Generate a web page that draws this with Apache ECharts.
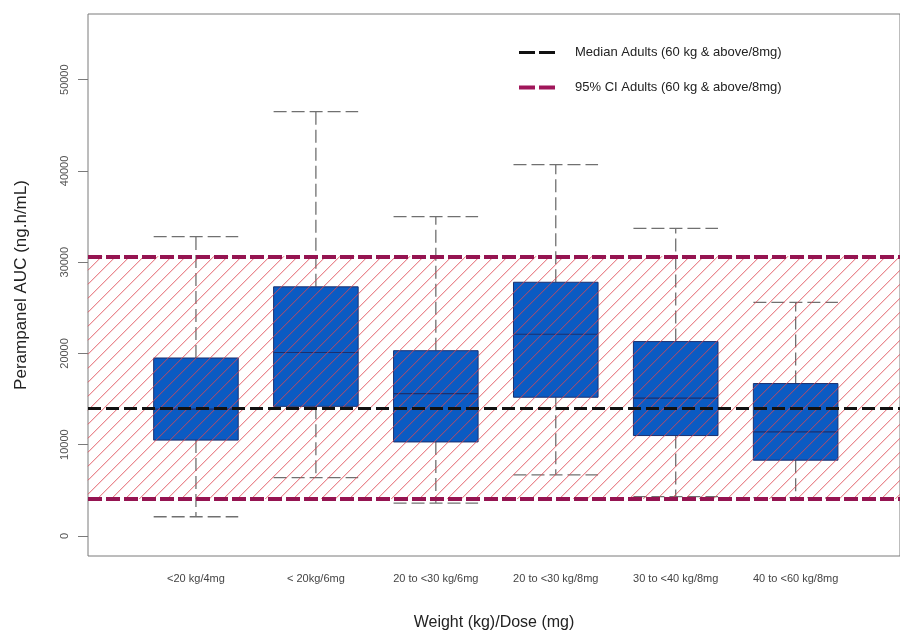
<!DOCTYPE html>
<html>
<head>
<meta charset="utf-8">
<script src="https://cdn.jsdelivr.net/npm/echarts@6/dist/echarts.min.js"></script>
<style>
  html, body { margin: 0; padding: 0; background: #fff; }
  #main { width: 900px; height: 637px; }
</style>
</head>
<body>
<div id="main"></div>
<script>
// groups on the x axis
const categories = ['<20 kg/4mg', '< 20kg/6mg', '20 to <30 kg/6mg', '20 to <30 kg/8mg', '30 to <40 kg/8mg', '40 to <60 kg/8mg'];

// box statistics per group (ng.h/mL)
const whiskerLow = [2100, 6400, 3600, 6700, 4300, 4200];
const q1Values = [10500, 14200, 10300, 15200, 11000, 8300];
const medianValues = [13900, 20100, 15600, 22100, 15100, 11400];
const q3Values = [19500, 27300, 20300, 27800, 21300, 16700];
const whiskerHigh = [32800, 46500, 35000, 40700, 33700, 25600];

// adult reference (60 kg & above / 8mg)
const adultMedian = 13950;
const adultCI = [4050, 30650];

const yTicks = [0, 10000, 20000, 30000, 40000, 50000];

const medianName = 'Median Adults (60 kg & above/8mg)';
const ciName = '95% CI Adults (60 kg & above/8mg)';

const boxData = categories.map((c, i) => [i + 1, whiskerLow[i], q1Values[i], medianValues[i], q3Values[i], whiskerHigh[i]]);

const whiskerStyle = { stroke: '#707070', lineWidth: 1.3, lineDash: [13, 5] };

function renderBox(params, api) {
  const x = api.value(0);
  const half = api.size([0.705, 0])[0] / 2;
  const pLow = api.coord([x, api.value(1)]);
  const pQ1 = api.coord([x, api.value(2)]);
  const pMed = api.coord([x, api.value(3)]);
  const pQ3 = api.coord([x, api.value(4)]);
  const pHigh = api.coord([x, api.value(5)]);
  const cx = pMed[0];
  return {
    type: 'group',
    children: [
      { type: 'line', shape: { x1: cx, y1: pQ3[1], x2: cx, y2: pHigh[1] }, style: whiskerStyle },
      { type: 'line', shape: { x1: cx, y1: pQ1[1], x2: cx, y2: pLow[1] }, style: whiskerStyle },
      { type: 'line', shape: { x1: cx - half, y1: pHigh[1], x2: cx + half, y2: pHigh[1] }, style: whiskerStyle },
      { type: 'line', shape: { x1: cx - half, y1: pLow[1], x2: cx + half, y2: pLow[1] }, style: whiskerStyle },
      {
        type: 'rect',
        shape: { x: cx - half, y: pQ3[1], width: half * 2, height: pQ1[1] - pQ3[1] },
        style: { fill: '#0b5bc3', stroke: '#1c2f6e', lineWidth: 1 }
      },
      { type: 'line', shape: { x1: cx - half, y1: pMed[1], x2: cx + half, y2: pMed[1] }, style: { stroke: '#1c2f6e', lineWidth: 1.2 } }
    ]
  };
}

// 45 degree hatching over the CI band, spaced 14px
function renderHatch(params, api) {
  const rect = params.coordSys;
  const yTop = api.coord([0, api.value(1)])[1];
  const yBot = api.coord([0, api.value(0)])[1];
  const x0 = rect.x;
  const x1 = rect.x + rect.width;
  const step = 14;
  const children = [];
  for (let c = x0 + yTop; c <= x1 + yBot; c += step) {
    const ax = Math.max(x0, c - yBot);
    const bx = Math.min(x1, c - yTop);
    if (bx <= ax) continue;
    children.push({
      type: 'line',
      shape: { x1: ax, y1: c - ax, x2: bx, y2: c - bx },
      style: { stroke: 'rgba(222,70,82,0.85)', lineWidth: 1 }
    });
  }
  return { type: 'group', children: children };
}

const chart = echarts.init(document.getElementById('main'));

chart.setOption({
  animation: false,
  backgroundColor: '#fff',
  textStyle: { fontFamily: 'Liberation Sans, Arial, sans-serif' },
  grid: { left: 88, top: 14, right: -6, bottom: 81, show: true, borderColor: '#7a7a7a', borderWidth: 1 },
  legend: {
    orient: 'vertical',
    left: 512,
    top: 41,
    itemWidth: 36,
    itemHeight: 14,
    itemGap: 22,
    itemStyle: { opacity: 0 },
    data: [
      { name: medianName, lineStyle: { color: '#111', width: 3, type: [16, 4] } },
      { name: ciName, lineStyle: { color: '#a0165a', width: 4, type: [16, 4] } }
    ],
    textStyle: { fontSize: 13, color: '#222', padding: [0, 0, 0, 15] }
  },
  xAxis: {
    type: 'value',
    min: 0.1,
    max: 6.87,
    name: 'Weight (kg)/Dose (mg)',
    nameLocation: 'middle',
    nameGap: 59,
    nameTextStyle: { fontSize: 16, color: '#222' },
    axisLine: { show: false },
    axisTick: { show: false },
    splitLine: { show: false },
    axisLabel: {
      customValues: categories.map((c, i) => i + 1),
      formatter: v => categories[Math.round(v) - 1] || '',
      fontSize: 11,
      color: '#444',
      margin: 17
    }
  },
  yAxis: {
    type: 'value',
    min: -2200,
    max: 57200,
    name: 'Perampanel AUC (ng.h/mL)',
    nameLocation: 'middle',
    nameGap: 58,
    nameTextStyle: { fontSize: 17, color: '#222' },
    axisLine: { show: false },
    splitLine: { show: false },
    axisTick: { show: true, customValues: yTicks, length: 10, lineStyle: { color: '#7a7a7a' } },
    axisLabel: {
      customValues: yTicks,
      formatter: v => String(v),
      rotate: 90,
      fontSize: 11,
      color: '#555',
      margin: 18
    }
  },
  series: [
    {
      type: 'custom',
      z: 2,
      renderItem: renderBox,
      data: boxData,
      silent: true
    },
    {
      type: 'custom',
      z: 3,
      renderItem: renderHatch,
      data: [adultCI],
      silent: true
    },
    {
      name: medianName,
      type: 'line',
      z: 4,
      data: [],
      symbol: 'none',
      color: '#111',
      lineStyle: { color: '#111', width: 3, type: [16, 4] },
      markLine: {
        silent: true,
        symbol: ['none', 'none'],
        label: { show: false },
        lineStyle: { color: '#111', width: 3, type: [13, 5] },
        data: [{ yAxis: adultMedian }]
      }
    },
    {
      name: ciName,
      type: 'line',
      z: 4,
      data: [],
      symbol: 'none',
      color: '#a0165a',
      lineStyle: { color: '#a0165a', width: 4, type: [16, 4] },
      markLine: {
        silent: true,
        symbol: ['none', 'none'],
        label: { show: false },
        lineStyle: { color: '#951451', width: 4, type: [14, 4] },
        data: [{ yAxis: adultCI[0] }, { yAxis: adultCI[1] }]
      }
    }
  ]
});
</script>
</body>
</html>
